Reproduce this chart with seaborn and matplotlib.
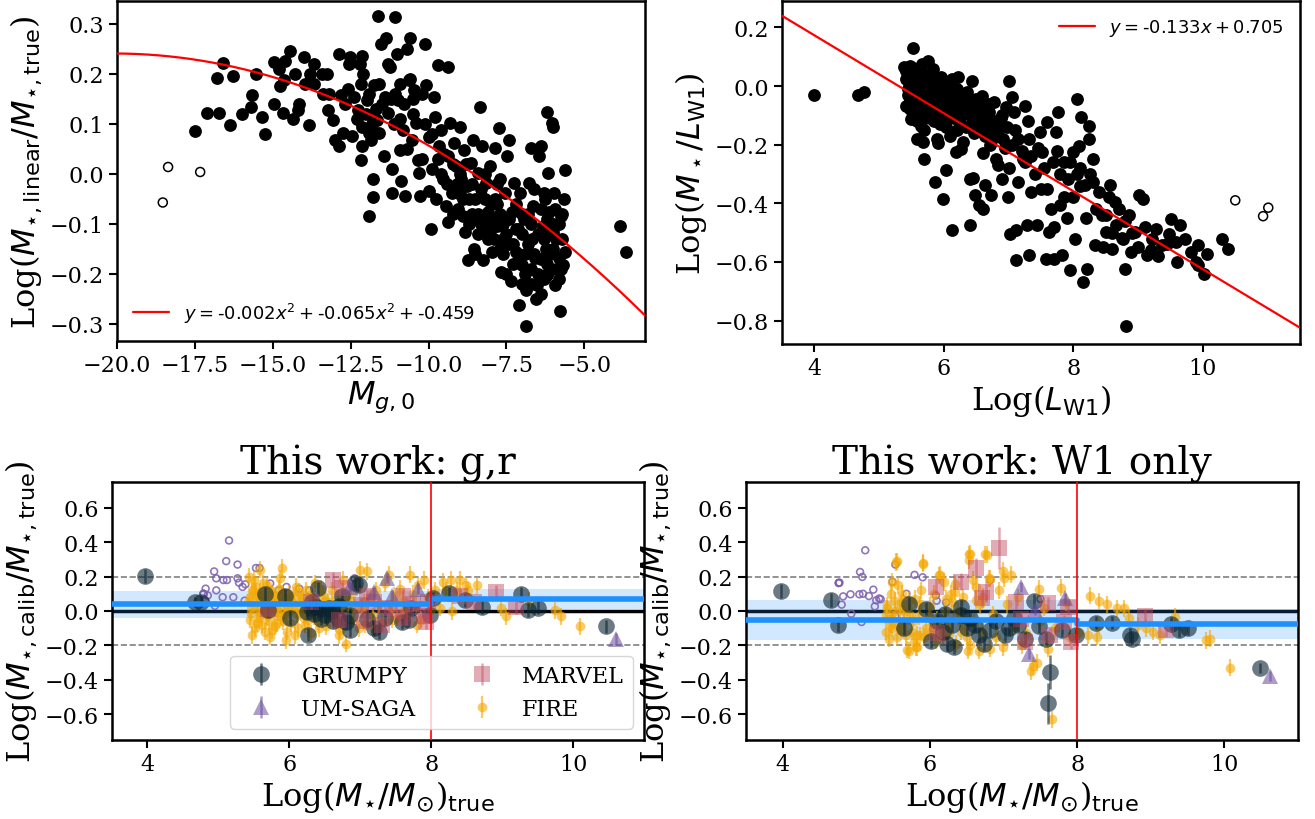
import numpy as np
import pandas as pd
import matplotlib
matplotlib.use('Agg')
import matplotlib.pyplot as plt
import seaborn as sns

# ---------------- top left: residual of linear M* vs absolute g mag ----------------
tl_points = [
    (-17.51, 0.086), (-17.12, 0.121), (-16.74, 0.121), (-16.78, 0.191), (-16.59, 0.222), (-16.27, 0.195),
    (-16.37, 0.098), (-15.99, 0.119), (-15.71, 0.133), (-15.68, 0.158), (-15.55, 0.200), (-15.33, 0.113),
    (-15.25, 0.079), (-14.97, 0.140), (-14.96, 0.224), (-14.78, 0.175), (-14.67, 0.122), (-14.62, 0.226),
    (-14.45, 0.246), (-14.64, 0.187), (-14.34, 0.109), (-14.18, 0.127), (-14.15, 0.140), (-14.01, 0.233),
    (-13.96, 0.180), (-13.85, 0.098), (-13.68, 0.220), (-13.66, 0.179), (-13.42, 0.200), (-13.38, 0.160),
    (-13.26, 0.200), (-13.22, 0.127), (-13.08, 0.108), (-13.01, 0.068), (-12.88, 0.239), (-12.88, 0.055),
    (-12.81, 0.157), (-12.74, 0.081), (-12.67, 0.140), (-12.56, 0.220), (-12.51, 0.233), (-12.45, 0.075),
    (-12.40, 0.153), (-12.26, 0.127), (-12.19, 0.220), (-12.18, 0.180), (-12.15, 0.094), (-12.15, 0.236),
    (-12.12, 0.055), (-12.18, 0.028), (-11.99, 0.147), (-11.90, 0.081), (-11.90, -0.084), (-11.85, 0.068),
    (-11.79, -0.011), (-11.77, -0.047), (-11.74, 0.177), (-11.66, 0.108), (-11.63, 0.315), (-11.58, 0.081),
    (-11.52, 0.259), (-11.44, 0.035), (-11.41, 0.153), (-11.36, 0.272), (-11.30, 0.121), (-11.23, 0.213),
    (-11.16, 0.009), (-11.16, -0.038), (-11.08, 0.313), (-11.08, 0.160), (-11.00, 0.239), (-10.97, 0.147),
    (-10.92, 0.048), (-10.89, -0.014), (-10.82, 0.088), (-10.75, -0.044), (-10.68, 0.249), (-10.62, 0.187),
    (-10.59, 0.272), (-10.53, 0.068), (-10.48, 0.167), (-10.41, 0.101), (-10.34, 0.028), (-10.32, 0.002),
    (-10.27, -0.044), (-10.12, 0.259), (-10.07, 0.177), (-10.00, 0.074), (-9.99, -0.034), (-9.93, -0.110),
    (-9.90, 0.009), (-9.82, 0.153), (-9.79, 0.114), (-9.77, -0.051), (-9.68, 0.218), (-9.66, 0.055),
    (-9.59, 0.088), (-9.52, -0.011), (-9.45, -0.064), (-9.38, 0.213), (-9.38, -0.097), (-9.36, 0.035),
    (-9.32, 0.101), (-9.25, -0.038), (-9.18, 0.061), (-9.11, 0.015), (-9.04, -0.071), (-9.00, 0.094),
    (-8.97, -0.011), (-8.90, -0.084), (-8.86, 0.048), (-8.84, -0.117), (-8.77, -0.024), (-8.73, -0.173),
    (-8.70, -0.051), (-8.63, 0.022), (-8.56, 0.068), (-8.53, -0.150), (-8.49, -0.090), (-8.42, 0.002),
    (-8.36, 0.134), (-8.32, -0.044), (-8.29, 0.055), (-8.25, -0.173), (-8.22, -0.117), (-8.15, -0.018),
    (-8.08, -0.077), (-8.01, 0.015), (-7.95, -0.156), (-7.88, 0.051), (-7.88, -0.051), (-7.81, -0.104),
    (-7.74, 0.091), (-7.71, -0.011), (-7.67, -0.196), (-7.60, -0.130), (-7.53, -0.038), (-7.47, 0.035),
    (-7.40, 0.068), (-7.36, -0.215), (-7.33, -0.077), (-7.26, -0.018), (-7.19, -0.156), (-7.12, -0.110),
    (-7.08, -0.262), (-7.05, -0.038), (-7.00, -0.183), (-6.93, -0.090), (-6.88, -0.305), (-6.86, -0.232),
    (-6.78, -0.018), (-6.71, 0.051), (-6.67, -0.130), (-6.64, -0.064), (-6.58, -0.169), (-6.52, -0.222),
    (-6.45, 0.035), (-6.38, 0.055), (-6.34, -0.104), (-6.30, -0.038), (-6.23, -0.150), (-6.21, 0.124),
    (-6.18, -0.202), (-6.16, 0.002), (-6.12, -0.077), (-6.05, 0.101), (-6.01, 0.094), (-5.99, -0.117),
    (-5.97, -0.038), (-5.93, -0.222), (-5.82, -0.169), (-5.79, -0.275), (-5.75, -0.084), (-5.71, -0.130),
    (-5.68, -0.183), (-5.66, -0.051), (-5.63, 0.007), (-5.63, -0.156), (-3.84, -0.105), (-3.66, -0.156),
    (-8.60, -0.08), (-8.40, -0.12), (-8.10, -0.13), (-7.90, -0.09), (-7.60, -0.10), (-7.40, -0.14),
    (-7.20, -0.06), (-7.00, -0.12), (-6.90, -0.16), (-6.70, -0.19), (-6.50, -0.12), (-6.40, -0.17),
    (-6.20, -0.09), (-6.00, -0.15), (-5.90, -0.19), (-6.60, -0.03), (-7.80, -0.02), (-8.20, 0.00),
    (-8.80, 0.02), (-9.00, -0.04), (-7.50, -0.20), (-6.30, -0.21), (-6.10, -0.12), (-5.80, -0.10),
    (-8.50, -0.16), (-9.20, -0.08), (-9.60, 0.00), (-10.20, 0.03), (-11.90, 0.16), (-11.60, 0.18),
    (-11.20, 0.15), (-10.80, 0.14), (-10.50, 0.12), (-10.90, 0.18), (-11.70, 0.13), (-12.30, 0.11),
    (-11.30, 0.22), (-10.60, 0.19), (-7.30, -0.18), (-6.80, -0.08), (-6.55, -0.25), (-6.25, -0.05),
    (-5.95, -0.07), (-7.70, -0.15), (-8.00, -0.06), (-8.30, -0.03), (-9.10, -0.02), (-9.50, 0.04),
    (-10.10, 0.10), (-10.70, 0.05), (-11.10, 0.10), (-12.00, 0.12), (-12.60, 0.17), (-13.20, 0.16),
    (-13.80, 0.20), (-14.30, 0.20), (-14.80, 0.21),
    (-9.40, -0.02), (-9.20, 0.02), (-9.00, 0.00), (-8.90, -0.05), (-8.70, -0.10), (-8.60, -0.02),
    (-8.50, -0.05), (-8.40, -0.08), (-8.30, -0.10), (-8.20, -0.05), (-8.10, -0.09), (-8.00, -0.11),
    (-7.90, -0.13), (-7.80, -0.06), (-7.70, -0.08), (-7.60, -0.16), (-7.50, -0.12), (-7.40, -0.09),
    (-7.30, -0.14), (-7.20, -0.11), (-7.10, -0.17), (-7.00, -0.08), (-6.90, -0.20), (-6.80, -0.14),
    (-6.70, -0.10), (-6.60, -0.16), (-6.50, -0.20), (-6.40, -0.07), (-6.30, -0.13), (-6.20, -0.18),
    (-6.10, -0.16), (-6.00, -0.10), (-5.90, -0.13), (-5.80, -0.21), (-5.70, -0.08), (-6.40, -0.24),
    (-6.70, -0.22), (-7.00, -0.22), (-6.20, -0.20), (-5.75, -0.19), (-10.50, 0.15), (-10.20, 0.16),
    (-10.90, 0.11), (-11.50, 0.14), (-12.10, 0.20), (-11.80, 0.10), (-9.90, 0.08), (-9.70, 0.03),
]
tl_outliers = [(-18.36, 0.013), (-18.53, -0.058), (-17.33, 0.003)]
tl_fit = [-0.0018, -0.0724, -0.488]
tl_label = r'$y = $-0.002$x^2 + $-0.065$x^2 + $-0.459'

# ---------------- top right: M*/L_W1 vs L_W1 ----------------
tr_points = [
    (3.99, -0.029), (4.68, -0.029), (4.76, -0.021), (5.53, 0.128), (5.38, 0.064), (5.48, 0.069),
    (5.66, 0.075), (5.75, 0.087), (5.83, 0.058), (5.41, 0.024), (5.54, 0.001), (5.61, -0.021),
    (5.48, -0.044), (5.41, -0.067), (5.57, -0.089), (5.50, -0.112), (5.64, -0.135), (5.58, -0.180),
    (5.67, -0.192), (5.70, -0.248), (5.86, -0.328), (5.91, -0.194), (5.99, -0.385), (6.03, -0.285),
    (5.99, -0.044), (6.05, 0.013), (6.12, 0.024), (6.22, 0.030), (6.18, -0.226), (6.13, -0.490),
    (6.27, -0.214), (6.29, -0.078), (6.40, -0.316), (6.44, 0.018), (6.40, -0.475), (6.45, -0.314),
    (6.50, -0.044), (6.48, -0.373), (6.54, -0.407), (6.59, -0.033), (6.60, -0.419), (6.64, -0.339),
    (6.70, -0.158), (6.73, -0.373), (6.77, -0.055), (6.83, -0.271), (6.89, -0.316), (6.96, -0.072),
    (6.99, -0.379), (7.01, 0.018), (7.02, -0.504), (7.05, -0.038), (7.09, -0.089), (7.12, -0.492),
    (7.14, -0.328), (7.12, -0.595), (7.22, -0.248), (7.25, -0.067), (7.28, -0.475), (7.31, -0.180),
    (7.31, -0.577), (7.34, -0.362), (7.44, -0.475), (7.48, -0.158), (7.51, -0.226), (7.57, -0.589),
    (7.60, -0.124), (7.63, -0.498), (7.70, -0.589), (7.73, -0.158), (7.76, -0.089), (7.79, -0.407),
    (7.82, -0.577), (7.86, -0.260), (7.92, -0.316), (7.95, -0.629), (7.99, -0.226), (8.02, -0.521),
    (8.05, -0.044), (8.08, -0.203), (8.12, -0.107), (8.15, -0.668), (8.18, -0.339), (8.21, -0.623),
    (8.24, -0.135), (8.24, -0.180), (8.31, -0.328), (8.34, -0.543), (8.44, -0.441), (8.50, -0.498),
    (8.57, -0.339), (8.60, -0.555), (8.65, -0.396), (8.66, -0.475), (8.76, -0.521), (8.79, -0.623),
    (8.81, -0.819), (8.86, -0.441), (8.89, -0.566), (8.95, -0.498), (9.02, -0.373), (9.08, -0.385),
    (9.14, -0.577), (9.21, -0.521), (9.27, -0.487), (9.37, -0.543), (9.47, -0.504), (9.50, -0.453),
    (9.59, -0.532), (9.65, -0.475), (9.72, -0.521), (9.82, -0.566), (9.92, -0.543), (9.93, -0.612),
    (10.01, -0.640), (10.06, -0.572), (10.29, -0.521), (10.39, -0.557),
    (5.45, -0.01), (5.55, -0.06), (5.65, -0.03), (5.75, -0.08), (5.85, -0.12), (5.95, -0.06),
    (6.05, -0.10), (6.15, -0.04), (6.25, -0.13), (6.35, -0.09), (6.45, -0.12), (6.55, -0.15),
    (6.65, -0.10), (6.75, -0.18), (6.85, -0.14), (6.95, -0.21), (5.60, 0.03), (5.70, -0.15),
    (5.90, -0.18), (6.10, -0.17), (6.30, -0.19), (6.60, -0.23), (6.80, -0.25), (7.00, -0.28),
    (7.20, -0.22), (7.40, -0.30), (7.60, -0.35), (7.80, -0.30), (8.00, -0.38), (8.20, -0.45),
    (7.90, -0.45), (7.70, -0.48), (8.40, -0.36), (8.60, -0.50), (8.80, -0.46), (9.00, -0.55),
    (5.50, 0.04), (5.62, -0.10), (5.80, 0.00), (5.72, 0.02), (5.95, 0.03), (6.20, -0.01),
    (6.35, -0.02), (6.50, -0.07), (6.70, -0.06), (6.90, -0.10), (7.10, -0.15), (7.30, -0.12),
    (7.50, -0.35), (7.65, -0.42), (7.85, -0.38), (8.10, -0.28), (8.30, -0.25), (8.45, -0.55),
    (8.70, -0.42), (9.30, -0.58), (9.60, -0.60), (9.90, -0.60),
    (5.42, 0.05), (5.44, -0.03), (5.46, 0.01), (5.47, -0.08), (5.50, -0.02), (5.52, 0.06),
    (5.53, -0.05), (5.56, 0.02), (5.58, -0.12), (5.60, -0.07), (5.62, 0.00), (5.63, 0.05),
    (5.66, -0.05), (5.68, -0.10), (5.70, 0.04), (5.72, -0.03), (5.74, -0.06), (5.76, 0.01),
    (5.78, -0.11), (5.80, -0.04), (5.82, 0.03), (5.84, -0.08), (5.86, -0.02), (5.88, 0.00),
    (5.90, -0.10), (5.92, -0.05), (5.94, -0.13), (5.97, -0.02), (6.00, -0.08), (6.02, 0.00),
    (6.04, -0.14), (6.07, -0.05), (6.10, -0.09), (6.12, -0.02), (6.15, -0.11), (6.18, -0.06),
    (6.20, -0.15), (6.23, -0.08), (6.26, -0.03), (6.28, -0.10), (6.32, -0.06), (6.34, -0.14),
    (6.38, -0.04), (6.40, -0.10), (6.43, -0.07), (6.47, -0.16), (6.50, -0.10), (6.53, -0.05),
    (6.57, -0.12), (6.60, -0.08), (6.63, -0.17), (6.67, -0.13), (6.70, -0.09), (6.72, -0.20),
    (6.78, -0.12), (6.82, -0.16), (6.88, -0.11), (6.92, -0.18), (6.98, -0.14), (7.05, -0.20),
    (7.15, -0.18), (7.25, -0.26), (7.35, -0.24), (7.45, -0.21), (7.55, -0.28), (7.68, -0.26),
    (7.75, -0.22), (7.95, -0.26), (8.05, -0.30), (8.10, -0.34), (8.25, -0.30), (8.35, -0.42),
    (8.50, -0.44), (8.55, -0.38), (8.75, -0.52), (8.90, -0.50), (9.10, -0.48), (9.20, -0.56),
    (9.45, -0.54),
]
tr_outliers = [(10.50, -0.390), (10.93, -0.444), (11.01, -0.415)]
tr_fit = [-0.133, 0.705]
tr_label = r'$y = $-0.133$x + $0.705'

# ---------------- bottom panels: calibrated vs true stellar mass ----------------
fit_ranges = [(3.5, 8.0), (8.0, 11.0)]
guide_levels = [0.2, -0.2]
fire_err = 0.05
umsaga_err = 0.03

# (x, y, yerr)
bl_grumpy = [
    (3.97, 0.205, 0.04), (4.67, 0.052, 0.03), (4.75, 0.055, 0.03), (5.65, 0.10, 0.04), (5.70, 0.005, 0.04),
    (5.94, 0.086, 0.04), (6.01, -0.04, 0.04), (6.27, -0.137, 0.04), (6.25, -0.005, 0.04), (6.30, 0.02, 0.04),
    (6.35, -0.02, 0.04), (6.38, 0.024, 0.04), (6.41, 0.131, 0.04), (6.44, -0.044, 0.04), (6.50, -0.024, 0.04),
    (6.56, 0.015, 0.04), (6.60, 0.0, 0.04), (6.68, -0.044, 0.04), (6.74, 0.086, 0.04), (6.80, -0.063, 0.04),
    (6.85, -0.11, 0.04), (6.86, -0.024, 0.04), (6.92, 0.16, 0.04), (6.98, 0.15, 0.04), (7.10, -0.044, 0.04),
    (7.19, -0.098, 0.04), (7.27, -0.12, 0.04), (7.35, -0.04, 0.04), (7.59, -0.063, 0.04), (7.69, -0.05, 0.04),
    (7.71, 0.015, 0.04), (7.98, -0.024, 0.04), (8.02, 0.073, 0.04), (8.25, 0.102, 0.04), (8.47, 0.065, 0.04),
    (8.72, 0.025, 0.04), (9.26, 0.10, 0.04), (9.37, 0.005, 0.04), (9.50, 0.02, 0.04), (10.47, -0.09, 0.04),
    (6.32, 0.05, 0.04), (6.46, 0.01, 0.04), (6.62, -0.06, 0.04), (6.70, 0.03, 0.04),
]
bl_marvel = [
    (5.70, 0.01, 0.04), (6.30, 0.05, 0.04), (6.61, 0.179, 0.05), (6.70, -0.05, 0.04), (6.74, 0.131, 0.04),
    (7.01, 0.034, 0.04), (7.05, -0.06, 0.04), (7.10, 0.09, 0.04), (7.20, 0.05, 0.04), (7.30, -0.08, 0.04),
    (7.35, 0.02, 0.04), (7.50, 0.0, 0.04), (7.60, 0.09, 0.04), (7.65, -0.04, 0.04), (7.75, 0.04, 0.04),
    (7.90, -0.03, 0.04), (7.92, -0.063, 0.04), (7.95, 0.05, 0.04), (8.40, 0.09, 0.04), (8.60, 0.05, 0.04),
    (8.92, 0.11, 0.04), (9.19, 0.025, 0.04),
]
bl_umsaga = [(6.85, 0.14), (7.20, 0.11), (7.37, 0.19), (7.45, 0.09), (7.82, 0.13), (10.60, -0.16)]
bl_fire = [
    (5.42, 0.05), (5.43, 0.20), (5.45, -0.05), (5.47, -0.14), (5.48, 0.12), (5.50, 0.18), (5.52, -0.10),
    (5.53, 0.10), (5.55, 0.02), (5.57, -0.04), (5.58, 0.24), (5.60, -0.02), (5.62, 0.08), (5.63, 0.16),
    (5.65, -0.12), (5.67, 0.00), (5.68, 0.15), (5.70, 0.04), (5.72, -0.06), (5.73, -0.15), (5.75, 0.10),
    (5.77, 0.05), (5.78, 0.00), (5.80, -0.09), (5.82, 0.06), (5.83, -0.07), (5.85, 0.13), (5.87, 0.19),
    (5.88, -0.03), (5.90, 0.25), (5.92, 0.07), (5.93, 0.03), (5.95, -0.17), (5.97, -0.12), (5.98, 0.02),
    (6.00, 0.10), (6.02, 0.06), (6.03, -0.07), (6.06, 0.04), (6.08, -0.14), (6.10, 0.14), (6.12, -0.10),
    (6.13, 0.11), (6.15, 0.00), (6.18, 0.08), (6.20, -0.04), (6.22, -0.08), (6.24, 0.12), (6.27, 0.01),
    (6.28, 0.03), (6.30, -0.13), (6.33, 0.06), (6.35, -0.03), (6.36, 0.16), (6.40, -0.06), (6.44, 0.02),
    (6.45, 0.13), (6.48, 0.09), (6.52, -0.09), (6.55, 0.05), (6.58, 0.00), (6.60, 0.12), (6.64, -0.02),
    (6.68, 0.07), (6.70, -0.14), (6.72, -0.11), (6.76, 0.18), (6.80, -0.19), (6.83, 0.03), (6.85, 0.06),
    (6.87, 0.10), (6.90, -0.05), (6.95, 0.14), (7.00, 0.24), (7.03, 0.01), (7.05, 0.05), (7.07, -0.08),
    (7.10, 0.23), (7.14, 0.08), (7.18, -0.03), (7.20, -0.10), (7.22, 0.12), (7.26, 0.04), (7.30, -0.07),
    (7.35, 0.16), (7.40, 0.21), (7.44, 0.02), (7.45, -0.05), (7.48, 0.09), (7.52, -0.04), (7.56, 0.13),
    (7.60, 0.06), (7.62, 0.00), (7.65, -0.02), (7.70, 0.21), (7.74, 0.10), (7.78, 0.03), (7.80, -0.08),
    (7.82, 0.15), (7.86, -0.05), (7.90, 0.18), (7.95, 0.08), (8.00, 0.01), (8.05, 0.12), (8.12, 0.02),
    (8.16, 0.17), (8.21, 0.12), (8.28, 0.18), (8.30, 0.00), (8.37, 0.12), (8.41, 0.18), (8.49, 0.15),
    (8.52, 0.12), (8.64, 0.15), (8.99, 0.02), (9.05, -0.03), (9.38, 0.06), (9.74, 0.005), (9.83, -0.03),
    (10.10, -0.09),
    (5.44, 0.08), (5.46, -0.01), (5.49, 0.03), (5.51, 0.14), (5.54, -0.07), (5.56, 0.06), (5.59, 0.11),
    (5.61, -0.08), (5.64, 0.03), (5.66, 0.07), (5.69, -0.03), (5.71, 0.12), (5.74, 0.01), (5.76, -0.11),
    (5.79, 0.09), (5.81, 0.02), (5.84, -0.01), (5.86, 0.05), (5.89, 0.10), (5.91, -0.06), (5.94, 0.08),
    (5.96, -0.02), (5.99, 0.05), (6.04, 0.02), (6.07, 0.09), (6.11, -0.02), (6.16, 0.05), (6.21, 0.02),
    (6.26, -0.05), (6.31, 0.09), (6.38, 0.03), (6.42, -0.10), (6.50, 0.06), (6.54, -0.04), (6.62, 0.04),
    (6.66, -0.07), (6.74, 0.02), (6.78, 0.09), (6.92, 0.02), (6.98, -0.10),
]
bl_open = [
    (5.15, 0.41), (5.11, 0.29), (5.27, 0.27), (4.94, 0.23), (4.97, 0.19), (5.07, 0.18), (5.12, 0.18),
    (5.27, 0.19), (5.29, 0.165), (5.34, 0.14), (5.38, 0.155), (4.82, 0.13), (4.79, 0.10), (4.79, 0.10),
    (4.79, 0.10), (4.85, 0.09), (4.97, 0.12), (5.06, 0.08), (5.21, 0.08), (4.95, 0.03), (5.37, 0.06),
    (5.53, 0.25), (5.58, 0.25), (5.73, 0.16), (5.85, 0.12), (5.96, 0.14), (6.14, 0.13), (6.28, 0.12),
    (6.92, 0.19), (4.82, 0.06),
]
bl_fit_mean = [0.040, 0.069]
bl_fit_sd = [0.078, 0.060]

br_grumpy = [
    (3.98, 0.115, 0.04), (4.66, 0.062, 0.04), (4.75, -0.08, 0.04), (5.65, -0.10, 0.04), (5.71, 0.043, 0.04),
    (5.94, 0.014, 0.04), (6.02, -0.177, 0.04), (6.09, -0.06, 0.04), (6.18, -0.12, 0.04), (6.20, -0.015, 0.04),
    (6.23, -0.19, 0.04), (6.33, -0.21, 0.04), (6.42, 0.025, 0.04), (6.42, -0.025, 0.04), (6.61, -0.08, 0.04),
    (6.66, -0.14, 0.04), (6.74, -0.19, 0.04), (6.81, -0.11, 0.04), (6.90, -0.06, 0.04), (7.02, -0.14, 0.04),
    (7.14, -0.04, 0.04), (7.19, -0.08, 0.04), (7.29, -0.16, 0.04), (7.41, 0.058, 0.04), (7.48, -0.09, 0.04),
    (7.58, -0.16, 0.04), (7.60, -0.536, 0.12), (7.63, -0.356, 0.10), (7.79, -0.11, 0.04), (7.99, -0.14, 0.04),
    (8.25, -0.067, 0.04), (8.47, -0.067, 0.04), (8.72, -0.14, 0.04), (8.75, -0.16, 0.04), (9.28, -0.073, 0.04),
    (9.38, -0.112, 0.04), (9.50, -0.10, 0.04), (10.49, -0.333, 0.03),
    (6.30, -0.08, 0.04), (6.50, -0.10, 0.04), (6.55, -0.04, 0.04), (7.08, -0.10, 0.04),
]
br_marvel = [
    (6.08, 0.141, 0.05), (6.09, -0.13, 0.04), (6.42, 0.171, 0.05), (6.62, 0.249, 0.06), (6.71, 0.073, 0.05),
    (6.76, 0.112, 0.06), (6.94, 0.366, 0.12), (7.17, 0.054, 0.04), (7.24, -0.044, 0.04), (7.29, -0.18, 0.04),
    (7.60, 0.044, 0.04), (7.63, -0.14, 0.04), (7.82, -0.063, 0.04), (7.87, 0.025, 0.04), (7.91, -0.18, 0.04),
    (8.92, -0.028, 0.04), (9.21, -0.112, 0.04),
]
br_umsaga = [(7.24, 0.14), (7.35, -0.25), (7.43, 0.005), (7.83, 0.073), (10.62, -0.376)]
br_fire = [
    (5.40, -0.025), (5.40, -0.12), (5.42, 0.033), (5.42, 0.015), (5.45, -0.044), (5.47, 0.10), (5.47, -0.083),
    (5.49, 0.169), (5.54, 0.285), (5.55, 0.29), (5.57, 0.15), (5.59, 0.014), (5.61, -0.103), (5.69, -0.225),
    (5.71, -0.23), (5.73, -0.025), (5.81, -0.21), (5.83, -0.21), (5.86, -0.142), (5.90, 0.28), (5.91, 0.276),
    (6.05, -0.083), (6.12, 0.208), (6.14, 0.21), (6.17, -0.14), (6.19, 0.169), (6.26, -0.132), (6.29, 0.101),
    (6.34, 0.159), (6.34, 0.112), (6.42, -0.12), (6.51, -0.23), (6.53, 0.295), (6.53, 0.33), (6.55, 0.334),
    (6.55, -0.20), (6.63, 0.062), (6.63, 0.14), (6.66, -0.23), (6.72, 0.082), (6.75, 0.33), (6.77, 0.328),
    (6.80, 0.19), (6.82, 0.188), (6.82, -0.22), (6.94, 0.12), (6.99, 0.233), (6.99, -0.21), (7.00, 0.19),
    (7.10, 0.21), (7.37, -0.35), (7.40, -0.32), (7.45, -0.30), (7.48, 0.13), (7.66, -0.63), (7.78, 0.135),
    (8.03, -0.12), (8.15, -0.14), (8.18, 0.09), (8.27, -0.15), (8.30, 0.056), (8.30, -0.083), (8.40, 0.04),
    (8.54, 0.015), (8.63, 0.015), (8.71, -0.04), (8.83, -0.083), (8.94, -0.10), (9.03, -0.12), (9.13, -0.14),
    (9.33, -0.034), (9.75, -0.17), (9.80, -0.16), (10.07, -0.33),
    (5.50, -0.05), (5.55, -0.15), (5.60, 0.05), (5.65, -0.06), (5.70, 0.02), (5.75, -0.12), (5.80, 0.07),
    (5.85, -0.03), (5.95, -0.10), (6.00, 0.03), (6.05, 0.10), (6.10, -0.05), (6.20, 0.00), (6.25, -0.09),
    (6.30, 0.05), (6.40, -0.04), (6.45, 0.08), (6.50, -0.15), (6.60, -0.07), (6.70, -0.12), (6.85, -0.02),
    (6.90, -0.15), (7.05, 0.04), (7.15, -0.09), (7.20, 0.08), (7.30, -0.13), (7.50, -0.06), (7.55, 0.02),
    (7.70, -0.10), (7.85, 0.05), (7.90, -0.15), (5.52, 0.06), (5.62, 0.10), (5.78, -0.18), (5.88, 0.12),
    (6.08, -0.17), (6.35, -0.19), (6.58, 0.18), (6.68, 0.04), (7.25, -0.20), (7.60, -0.22),
    (5.44, -0.16), (5.48, -0.10), (5.53, 0.00), (5.58, -0.09), (5.64, 0.00), (5.67, -0.14), (5.72, 0.06),
    (5.77, -0.06), (5.82, -0.14), (5.87, 0.04), (5.92, -0.15), (5.98, -0.03), (6.02, -0.12), (6.15, -0.10),
    (6.22, 0.07), (6.38, 0.00), (6.48, -0.08),
]
br_open = [
    (4.76, 0.163), (4.76, 0.163), (4.77, 0.165), (4.80, 0.037), (4.82, 0.085), (4.92, 0.097), (4.93, -0.016),
    (5.05, 0.227), (5.08, 0.198), (5.12, 0.353), (5.04, 0.097), (5.09, 0.10), (5.17, 0.087), (5.23, 0.124),
    (5.25, 0.027), (5.27, 0.062), (5.33, 0.068), (5.07, -0.064), (5.53, 0.27), (5.79, 0.21), (5.90, 0.196),
    (5.49, 0.17), (5.31, 0.073), (5.53, -0.03), (5.68, 0.10), (6.08, 0.09), (6.09, 0.06), (6.22, 0.05),
    (6.82, 0.18), (6.05, -0.10), (7.50, 0.07),
]
br_fit_mean = [-0.053, -0.075]
br_fit_sd = [0.118, 0.085]

# ---------------- style ----------------
sns.set_theme(style='ticks')
plt.rcParams['font.family'] = ['DejaVu Serif']
plt.rcParams['mathtext.fontset'] = 'dejavusans'
plt.rcParams['axes.unicode_minus'] = True
plt.rcParams.update({'text.color': 'black', 'axes.labelcolor': 'black',
                     'xtick.color': 'black', 'ytick.color': 'black'})

TICK = 16
LAB = 23

c_grumpy = '#0a2430'
c_marvel = '#c0485f'
c_umsaga = '#6a4c9c'
c_fire = '#f5a800'
c_open = '#7d5fb0'


def style_axes(ax):
    for s in ax.spines.values():
        s.set_linewidth(1.8)
        s.set_color('black')
    ax.tick_params(direction='out', length=6, width=1.5, labelsize=TICK, color='black',
                   labelcolor='black', left=True, bottom=True, top=False, right=False)


def top_panel(ax, pts, outl, xs, ys, label, loc):
    df = pd.DataFrame(pts, columns=['x', 'y'])
    sns.scatterplot(data=df, x='x', y='y', color='black', s=85, linewidth=0, ax=ax, zorder=2)
    od = pd.DataFrame(outl, columns=['x', 'y'])
    ax.scatter(od['x'], od['y'], s=42, facecolors='none', edgecolors='black', linewidths=1.1, zorder=2)
    ax.plot(xs, ys, color='red', lw=1.6, label=label, zorder=3)
    ax.legend(loc=loc, frameon=False, prop={'family': 'DejaVu Sans', 'size': 13})
    style_axes(ax)


def bottom_panel(ax, grumpy, marvel, umsaga, fire, opens, fmean, fsd, title, legend):
    ax.axhline(0, color='black', lw=2.5, zorder=1)
    for lv in guide_levels:
        ax.axhline(lv, color='gray', lw=1.2, ls='--', zorder=1)
    for (x0, x1), m, sd in zip(fit_ranges, fmean, fsd):
        ax.fill_between([x0, x1], m - sd, m + sd, color='dodgerblue', alpha=0.2, lw=0, zorder=1.5)

    op = pd.DataFrame(opens, columns=['x', 'y'])
    sns.scatterplot(data=op, x='x', y='y', ax=ax, s=24, facecolor='none', edgecolor=c_open,
                    linewidth=1.2, alpha=0.85, zorder=2)

    fi = pd.DataFrame(fire, columns=['x', 'y'])
    h_fire = ax.errorbar(fi['x'], fi['y'], yerr=fire_err, fmt='o', ms=7, color=c_fire, alpha=0.6,
                         elinewidth=1.6, mew=0, label='FIRE', zorder=2.2)
    gr = pd.DataFrame(grumpy, columns=['x', 'y', 'e'])
    h_gr = ax.errorbar(gr['x'], gr['y'], yerr=gr['e'], fmt='o', ms=12, color=c_grumpy, alpha=0.6,
                       elinewidth=1.8, mew=0, label='GRUMPY', zorder=2.4)
    ma = pd.DataFrame(marvel, columns=['x', 'y', 'e'])
    h_ma = ax.errorbar(ma['x'], ma['y'], yerr=ma['e'], fmt='s', ms=11, color=c_marvel, alpha=0.45,
                       elinewidth=1.8, mew=0, label='MARVEL', zorder=2.6)
    um = pd.DataFrame(umsaga, columns=['x', 'y'])
    h_um = ax.errorbar(um['x'], um['y'], yerr=umsaga_err, fmt='^', ms=12, color=c_umsaga, alpha=0.55,
                       elinewidth=1.8, mew=0, label='UM-SAGA', zorder=2.8)

    for (x0, x1), m in zip(fit_ranges, fmean):
        ax.plot([x0, x1], [m, m], color='dodgerblue', lw=4, zorder=4)
    ax.axvline(8, color='red', lw=1.2, zorder=5)

    ax.set_xlim(3.5, 11)
    ax.set_ylim(-0.75, 0.75)
    ax.set_xticks([4, 6, 8, 10])
    ax.set_yticks([-0.6, -0.4, -0.2, 0.0, 0.2, 0.4, 0.6])
    ax.set_title(title, fontsize=28, pad=6)
    ax.set_xlabel(r'Log($M_{\star}/M_{\odot}$)$_{\rm true}$', fontsize=LAB, labelpad=2)
    ax.set_ylabel(r'Log($M_{\star,\rm calib}/M_{\star,\rm true}$)', fontsize=LAB, labelpad=4)
    if legend:
        lg = ax.legend([h_gr, h_um, h_ma, h_fire], ['GRUMPY', 'UM-SAGA', 'MARVEL', 'FIRE'],
                       loc='lower right', ncol=2, fontsize=16, framealpha=0.8)
        lg.set_zorder(10)
    style_axes(ax)


W, H = 1315, 820
fig = plt.figure(figsize=(W / 100, H / 100), dpi=100)

# top left
ax1 = fig.add_axes([117 / W, 1 - 342 / H, 528 / W, 340 / H])
xs1 = np.linspace(-20, -3.05, 200)
top_panel(ax1, tl_points, tl_outliers, xs1, np.polyval(tl_fit, xs1), tl_label, 'lower left')
ax1.set_xlim(-20, -3.05)
ax1.set_ylim(-0.335, 0.345)
ax1.set_xticks(np.arange(-20, -4.9, 2.5))
ax1.set_yticks([-0.3, -0.2, -0.1, 0.0, 0.1, 0.2, 0.3])
ax1.set_xlabel(r'$M_{g,0}$', fontsize=LAB, labelpad=2)
ax1.set_ylabel(r'Log($M_{\star,\rm linear}/M_{\star,\rm true}$)', fontsize=LAB, labelpad=4)

# top right
ax2 = fig.add_axes([782 / W, 1 - 345 / H, 518 / W, 343 / H])
xs2 = np.array([3.5, 11.5])
top_panel(ax2, tr_points, tr_outliers, xs2, np.polyval(tr_fit, xs2), tr_label, 'upper right')
ax2.set_xlim(3.5, 11.5)
ax2.set_ylim(-0.88, 0.29)
ax2.set_xticks([4, 6, 8, 10])
ax2.set_yticks([-0.8, -0.6, -0.4, -0.2, 0.0, 0.2])
ax2.set_xlabel(r'Log($L_{\rm W1}$)', fontsize=LAB, labelpad=2)
ax2.set_ylabel(r'Log($M_\star/L_{\rm W1}$)', fontsize=LAB, labelpad=4)

# bottom
ax3 = fig.add_axes([112 / W, 1 - 741 / H, 532 / W, 258 / H])
bottom_panel(ax3, bl_grumpy, bl_marvel, bl_umsaga, bl_fire, bl_open, bl_fit_mean, bl_fit_sd,
             'This work: g,r', True)
ax4 = fig.add_axes([746 / W, 1 - 741 / H, 552 / W, 258 / H])
bottom_panel(ax4, br_grumpy, br_marvel, br_umsaga, br_fire, br_open, br_fit_mean, br_fit_sd,
             'This work: W1 only', False)

fig.savefig('out.png', dpi=100)
